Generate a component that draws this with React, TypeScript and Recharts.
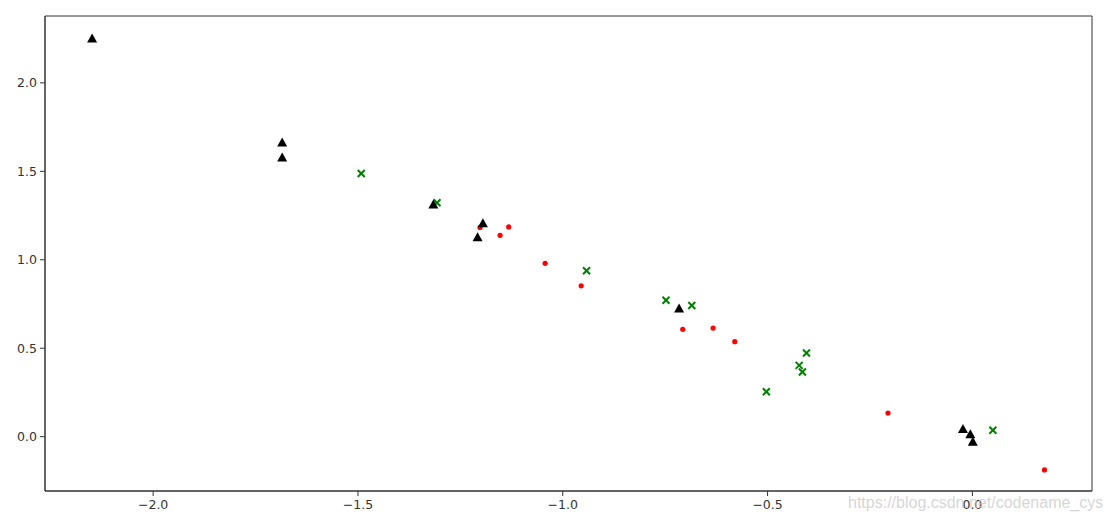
import React from "react";
import {
  ScatterChart,
  Scatter,
  XAxis,
  YAxis,
  ZAxis,
  ReferenceArea,
} from "recharts";

// cluster values
const redX = [-1.202, -1.153, -1.132, -1.043, -0.955, -0.707, -0.633, -0.58, -0.206, 0.176];
const redY = [1.183, 1.138, 1.186, 0.98, 0.853, 0.607, 0.614, 0.537, 0.134, -0.188];

const greenX = [-1.492, -1.307, -0.942, -0.748, -0.685, -0.405, -0.423, -0.415, -0.503, 0.05];
const greenY = [1.488, 1.322, 0.938, 0.771, 0.742, 0.473, 0.403, 0.366, 0.254, 0.036];

const blackX = [-2.149, -1.685, -1.685, -1.316, -1.195, -1.208, -0.716, -0.023, -0.005, 0.001];
const blackY = [2.251, 1.663, 1.578, 1.313, 1.206, 1.128, 0.725, 0.043, 0.014, -0.028];

const xTicks = [-2.0, -1.5, -1.0, -0.5, 0.0];
const yTicks = [0.0, 0.5, 1.0, 1.5, 2.0];
const xDomain = [-2.264, 0.292];
const yDomain = [-0.307, 2.378];

const toPoints = (xs: number[], ys: number[]) => xs.map((x, i) => ({ x, y: ys[i] }));

const fmt = (v: number) => (v < 0 ? "\u2212" : "") + Math.abs(v).toFixed(1);

const axisColor = "#333";
const tickStyle = { fill: "#333", fontSize: 12.5, fontFamily: "DejaVu Sans" };

const Dot = (props: any) => <circle cx={props.cx} cy={props.cy} r={2.6} fill="#ff0000" />;

const Cross = (props: any) => {
  const { cx, cy } = props;
  const s = 3.5;
  return (
    <g stroke="#008000" strokeWidth={2}>
      <line x1={cx - s} y1={cy - s} x2={cx + s} y2={cy + s} />
      <line x1={cx - s} y1={cy + s} x2={cx + s} y2={cy - s} />
    </g>
  );
};

const Triangle = (props: any) => {
  const { cx, cy } = props;
  const w = 5,
    h = 5;
  return <path d={`M${cx},${cy - h} L${cx + w},${cy + h - 1} L${cx - w},${cy + h - 1} Z`} fill="#000" />;
};

export default function App() {
  return (
    <div style={{ position: "absolute", left: 0, top: 0, width: 1110, height: 521, background: "#fff" }}>
      <ScatterChart width={1110} height={521} margin={{ top: 16, right: 18, left: 0, bottom: 0 }}>
        <XAxis
          type="number"
          dataKey="x"
          domain={xDomain}
          ticks={xTicks}
          allowDataOverflow
          tickFormatter={fmt}
          height={30}
          stroke={axisColor}
          tick={tickStyle}
          tickSize={5}
          tickMargin={4}
        />
        <YAxis
          type="number"
          dataKey="y"
          domain={yDomain}
          ticks={yTicks}
          allowDataOverflow
          tickFormatter={fmt}
          width={45}
          stroke={axisColor}
          tick={tickStyle}
          tickSize={5}
          tickMargin={3}
        />
        <ZAxis range={[20, 20]} />
        {/* frame round the plot, like matplotlib spines */}
        <ReferenceArea
          x1={xDomain[0]}
          x2={xDomain[1]}
          y1={yDomain[0]}
          y2={yDomain[1]}
          fill="none"
          stroke={axisColor}
          strokeWidth={1}
          ifOverflow="visible"
        />
        <Scatter data={toPoints(redX, redY)} shape={Dot} isAnimationActive={false} />
        <Scatter data={toPoints(greenX, greenY)} shape={Cross} isAnimationActive={false} />
        <Scatter data={toPoints(blackX, blackY)} shape={Triangle} isAnimationActive={false} />
      </ScatterChart>
      <div
        style={{
          position: "absolute",
          left: 848,
          top: 494,
          fontFamily: "Liberation Sans",
          fontSize: 16,
          color: "rgba(200,200,200,0.75)",
          pointerEvents: "none",
        }}
      >
        https://blog.csdn.net/codename_cys
      </div>
    </div>
  );
}
